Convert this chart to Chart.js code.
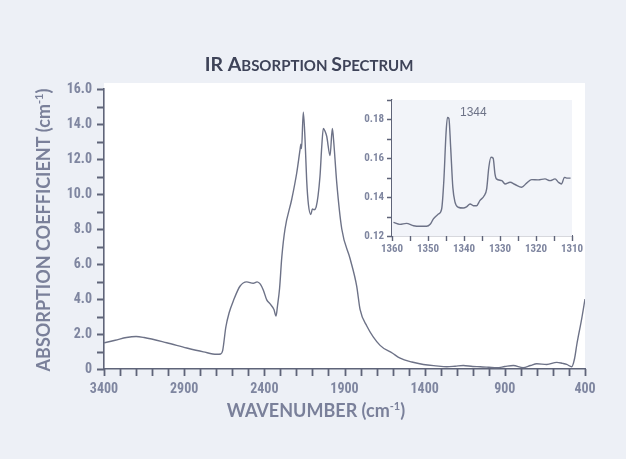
<!DOCTYPE html>
<html>
<head>
<meta charset="utf-8">
<title>IR Absorption Spectrum</title>
<script src="https://cdn.jsdelivr.net/npm/chart.js@4.4.1/dist/chart.umd.min.js"></script>
<style>
  html, body { margin: 0; padding: 0; background: #edf0f6; }
  #wrap { position: relative; width: 626px; height: 459px; overflow: hidden; }
  #main { position: absolute; left: 0; top: 0; }
  #inset { position: absolute; left: 350px; top: 95px; }
</style>
</head>
<body>
<div id="wrap">
  <canvas id="main" width="626" height="459"></canvas>
  <canvas id="inset" width="235" height="165"></canvas>
</div>
<script>
// main spectrum
const wavenumbers = [3400, 3330, 3260, 3200, 3150, 3009, 2884, 2780, 2697, 2672, 2660, 2640, 2620, 2593,
  2552, 2510, 2469, 2445, 2425, 2406, 2385, 2364, 2340, 2327, 2318, 2305, 2291, 2271, 2229, 2198,
  2177, 2172, 2168, 2157, 2146, 2136, 2125, 2110, 2100, 2090, 2077, 2053, 2042, 2032, 2020, 2011,
  1990, 1976, 1970, 1948, 1917, 1865, 1824, 1803, 1761, 1678, 1600, 1553, 1480, 1408, 1330, 1262,
  1210, 1159, 1100, 1054, 1000, 950, 900, 847, 786, 740, 701, 638, 576, 540, 514, 483, 465, 451, 420, 400];
const absorption = [1.50, 1.64, 1.80, 1.86, 1.80, 1.50, 1.20, 0.98, 0.84, 0.86, 1.05, 2.40, 3.20, 3.90,
  4.73, 4.98, 4.90, 4.98, 4.85, 4.50, 3.95, 3.72, 3.40, 3.02, 3.60, 4.60, 6.40, 8.00, 9.70, 11.20,
  12.55, 12.85, 12.60, 14.67, 13.10, 10.80, 9.40, 8.83, 9.15, 9.10, 9.25, 11.00, 12.70, 13.75, 13.55, 13.30,
  12.20, 13.75, 13.30, 10.60, 8.00, 6.30, 4.74, 3.41, 2.46, 1.35, 0.90, 0.62, 0.40, 0.26, 0.18, 0.13,
  0.16, 0.20, 0.14, 0.13, 0.10, 0.07, 0.14, 0.20, 0.08, 0.20, 0.30, 0.26, 0.38, 0.32, 0.26, 0.13, 0.60, 1.40, 2.90, 4.00];
const xTickLabels = [3400, 2900, 2400, 1900, 1400, 900, 400];

// inset, 1360-1310 cm-1
const insetWavenumbers = [1359.6, 1357.8, 1356, 1354, 1352.2, 1350.4, 1349.4, 1348.5, 1347.1, 1346.2, 1345.6,
  1345, 1344.6, 1344.2, 1343.7, 1343.1, 1342.5, 1341.6, 1340.2, 1339.3, 1338.3, 1337.4, 1336.5, 1335.6,
  1334.4, 1333.7, 1333.1, 1332.5, 1331.9, 1331.4, 1331, 1329.5, 1328.6, 1327.2, 1325.8, 1324, 1322.6,
  1321.2, 1319.4, 1317.5, 1316.1, 1314.7, 1313.8, 1312.9, 1312.1, 1311.5, 1310.4];
const insetAbsorption = [0.127, 0.126, 0.1265, 0.1253, 0.125, 0.125, 0.126, 0.1288, 0.1313, 0.134, 0.1485,
  0.1726, 0.181, 0.1806, 0.1655, 0.145, 0.1374, 0.1348, 0.1344, 0.135, 0.1365, 0.1356, 0.1356, 0.1382,
  0.1407, 0.1443, 0.1554, 0.1605, 0.16, 0.152, 0.1494, 0.1485, 0.1468, 0.1477, 0.1465, 0.1451, 0.1472,
  0.149, 0.1489, 0.1494, 0.1485, 0.1494, 0.1477, 0.1468, 0.1502, 0.1498, 0.1498];
const peakLabel = '1344';
const peakLabelAt = { x: 1337.4, y: 0.1835 };

const lineColor = '#6d7287';
const axisColor = '#5f6479';
const tickColor = '#7f86a0';
const tickFont = { family: "'Liberation Sans Narrow', 'Roboto Condensed', Roboto, sans-serif", size: 14, weight: 'bold' };
const titleFamily = "Lato, 'Open Sans', sans-serif";

function toPoints(xs, ys) {
  return xs.map((x, i) => ({ x: x, y: ys[i] }));
}

// fixed axis box sizes, and no extra label padding pushing the plot area around
function fixHeight(h) {
  return s => { s.height = h; s.paddingLeft = 0; s.paddingRight = 0; };
}
function fixWidth(w) {
  return s => { s.width = w; s.paddingTop = 0; s.paddingBottom = 0; };
}

// draws a row of text pieces with different sizes (small caps, superscripts)
function drawRuns(ctx, runs, cx, y, weight) {
  let total = 0;
  runs.forEach(r => {
    ctx.font = weight + ' ' + r.size + 'px ' + titleFamily;
    r.w = ctx.measureText(r.text).width;
    total += r.w;
  });
  let x = cx - total / 2;
  ctx.textAlign = 'left';
  ctx.textBaseline = 'alphabetic';
  runs.forEach(r => {
    ctx.font = weight + ' ' + r.size + 'px ' + titleFamily;
    ctx.fillText(r.text, x, y + (r.dy || 0));
    x += r.w;
  });
}

// short tick marks outside the axes, at every tick the scale made
function tickMarks(len, width) {
  return {
    id: 'tickMarks',
    afterDraw(chart) {
      const ctx = chart.ctx;
      const sx = chart.scales.x, sy = chart.scales.y;
      ctx.save();
      ctx.strokeStyle = axisColor;
      ctx.lineWidth = width;
      ctx.beginPath();
      sx.ticks.forEach(t => {
        const p = Math.round(sx.getPixelForValue(t.value)) + 0.5;
        ctx.moveTo(p, sx.top);
        ctx.lineTo(p, sx.top + len);
      });
      sy.ticks.forEach(t => {
        const p = Math.round(sy.getPixelForValue(t.value)) + 0.5;
        ctx.moveTo(sy.right - len, p);
        ctx.lineTo(sy.right, p);
      });
      ctx.stroke();
      ctx.restore();
    }
  };
}

const mainDecor = {
  id: 'mainDecor',
  beforeDraw(chart) {
    const ctx = chart.ctx, a = chart.chartArea;
    ctx.save();
    ctx.fillStyle = '#edf0f6';
    ctx.fillRect(0, 0, chart.width, chart.height);
    ctx.fillStyle = '#ffffff';
    ctx.fillRect(a.left, a.top - 6, a.right - a.left, a.bottom - a.top + 6);
    ctx.restore();
  },
  afterDraw(chart) {
    const ctx = chart.ctx;
    ctx.save();
    ctx.fillStyle = '#3e4358';
    drawRuns(ctx, [
      { text: 'IR A', size: 19.5 },
      { text: 'BSORPTION ', size: 15 },
      { text: 'S', size: 19.5 },
      { text: 'PECTRUM', size: 15 }
    ], 309, 71, 'bold');

    ctx.fillStyle = '#7a809a';
    drawRuns(ctx, [
      { text: 'WAVENUMBER (cm', size: 18 },
      { text: '-1', size: 11, dy: -7 },
      { text: ')', size: 18 }
    ], 316, 417, 'bold');

    ctx.translate(50, 230);
    ctx.rotate(-Math.PI / 2);
    drawRuns(ctx, [
      { text: 'ABSORPTION COEFFICIENT (cm', size: 18 },
      { text: '-1', size: 11, dy: -7 },
      { text: ')', size: 18 }
    ], 0, 0, 'bold');
    ctx.restore();
  }
};

const noGrid = { display: false, drawTicks: false, tickLength: 0 };

new Chart(document.getElementById('main'), {
  type: 'line',
  data: {
    datasets: [{
      data: toPoints(wavenumbers, absorption),
      borderColor: lineColor,
      borderWidth: 1.4,
      pointRadius: 0,
      cubicInterpolationMode: 'monotone',
      fill: false
    }]
  },
  options: {
    responsive: false,
    animation: false,
    layout: { padding: { top: 89, right: 41, left: 0, bottom: 0 } },
    plugins: { legend: { display: false }, tooltip: { enabled: false } },
    scales: {
      x: {
        type: 'linear',
        reverse: true,
        min: 400,
        max: 3400,
        afterFit: fixHeight(90),
        ticks: {
          stepSize: 100,
          autoSkip: false,
          maxRotation: 0,
          padding: 12,
          color: tickColor,
          font: tickFont,
          callback: v => (xTickLabels.includes(v) ? String(v) : '')
        },
        grid: noGrid,
        border: { display: true, color: axisColor, width: 1.6 }
      },
      y: {
        min: 0,
        max: 16,
        afterFit: fixWidth(104),
        ticks: {
          stepSize: 1,
          autoSkip: false,
          padding: 12,
          color: tickColor,
          font: tickFont,
          callback: v => (v === 0 ? '0' : (v % 2 === 0 ? v.toFixed(1) : ''))
        },
        grid: noGrid,
        border: { display: true, color: axisColor, width: 1.6 }
      }
    }
  },
  plugins: [mainDecor, tickMarks(7, 1.8)]
});

const insetDecor = {
  id: 'insetDecor',
  beforeDatasetsDraw(chart) {
    const ctx = chart.ctx, a = chart.chartArea;
    ctx.save();
    ctx.fillStyle = '#f2f4f9';
    ctx.fillRect(a.left, a.top, a.right - a.left, a.bottom - a.top);
    ctx.restore();
  },
  afterDraw(chart) {
    const ctx = chart.ctx;
    const px = chart.scales.x.getPixelForValue(peakLabelAt.x);
    const py = chart.scales.y.getPixelForValue(peakLabelAt.y);
    ctx.save();
    ctx.fillStyle = '#6d7287';
    ctx.font = "12px 'Liberation Sans', Arial, sans-serif";
    ctx.textAlign = 'center';
    ctx.textBaseline = 'middle';
    ctx.fillText(peakLabel, px, py);
    ctx.restore();
  }
};

const insetTickFont = { family: tickFont.family, size: 11, weight: 'bold' };

new Chart(document.getElementById('inset'), {
  type: 'line',
  data: {
    datasets: [{
      data: toPoints(insetWavenumbers, insetAbsorption),
      borderColor: lineColor,
      borderWidth: 1.4,
      pointRadius: 0,
      cubicInterpolationMode: 'monotone',
      fill: false
    }]
  },
  options: {
    responsive: false,
    animation: false,
    layout: { padding: { top: 5, right: 13, left: 0, bottom: 0 } },
    plugins: { legend: { display: false }, tooltip: { enabled: false } },
    scales: {
      x: {
        type: 'linear',
        reverse: true,
        min: 1310,
        max: 1360,
        afterFit: fixHeight(24),
        ticks: {
          stepSize: 5,
          autoSkip: false,
          maxRotation: 0,
          padding: 7,
          color: tickColor,
          font: insetTickFont,
          callback: v => (v % 10 === 0 ? String(v) : '')
        },
        grid: noGrid,
        border: { display: true, color: axisColor, width: 1.3 }
      },
      y: {
        min: 0.12,
        max: 0.19,
        afterFit: fixWidth(42),
        ticks: {
          stepSize: 0.01,
          autoSkip: false,
          padding: 8,
          color: tickColor,
          font: insetTickFont,
          callback: v => (Math.round(v * 100) % 2 === 0 ? v.toFixed(2) : '')
        },
        grid: noGrid,
        border: { display: true, color: axisColor, width: 1.3 }
      }
    }
  },
  plugins: [insetDecor, tickMarks(5, 1.4)]
});
</script>
</body>
</html>
